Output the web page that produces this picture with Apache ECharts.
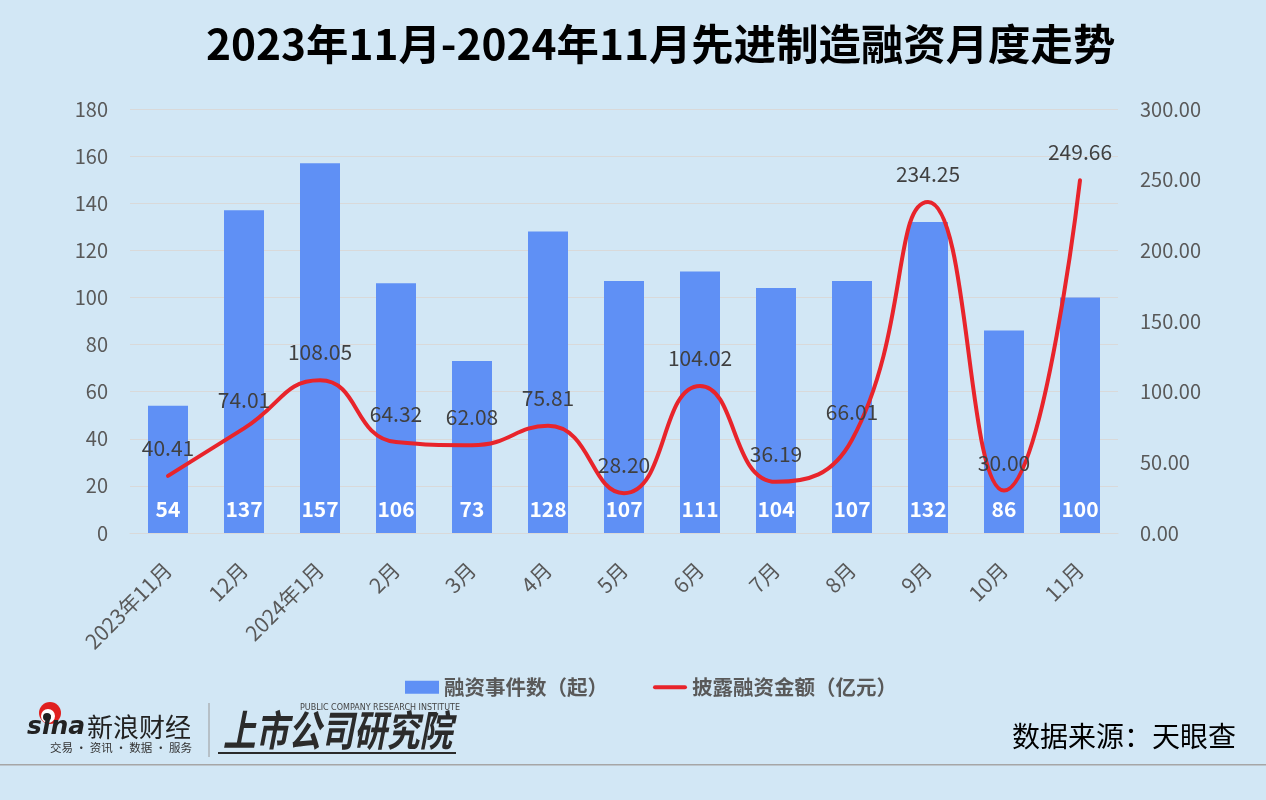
<!DOCTYPE html>
<html><head><meta charset="utf-8">
<script src="https://cdn.jsdelivr.net/npm/echarts@6/dist/echarts.min.js"></script>
<style>html,body{margin:0;padding:0;background:#d2e7f5;}#c{width:1266px;height:800px;}</style>
</head><body><div id="c"></div>
<script>
const categories = ['2023年11月','12月','2024年1月','2月','3月','4月','5月','6月','7月','8月','9月','10月','11月'];
const eventCounts = [54,137,157,106,73,128,107,111,104,107,132,86,100];
const amounts = [40.41,74.01,108.05,64.32,62.08,75.81,28.20,104.02,36.19,66.01,234.25,30.00,249.66];
const leftTicks = {min:0,max:180,interval:20};
const rightTicks = {min:0,max:300,interval:50};

const FONT = '"Noto Sans CJK SC","Noto Sans",sans-serif';
const chart = echarts.init(document.getElementById('c'));
chart.setOption({
  backgroundColor:'#d2e7f5',
  animation:false,
  textStyle:{fontFamily:FONT},
  title:{text:'2023年11月-2024年11月先进制造融资月度走势',left:201,top:18,
    textStyle:{fontSize:42.4,fontWeight:'bold',color:'#000',fontFamily:FONT}},
  grid:{left:130,right:148,top:109,bottom:267},
  legend:{top:672,left:400,itemGap:45,itemWidth:34,itemHeight:13,
    textStyle:{fontSize:20.5,fontWeight:'bold',color:'#595959'},
    data:[{name:'融资事件数（起）',icon:'rect'},{name:'披露融资金额（亿元）',icon:'path://M2,0 h30 a2,2 0 0 1 0,4 h-30 a2,2 0 0 1 0,-4z'}]},
  xAxis:{type:'category',data:categories,
    axisLine:{lineStyle:{color:'#d9d9d9'}},axisTick:{show:false},
    axisLabel:{rotate:45,fontSize:21,color:'#595959',margin:33,interval:0}},
  yAxis:[
    {type:'value',min:leftTicks.min,max:leftTicks.max,interval:leftTicks.interval,
     axisLabel:{fontSize:20,color:'#595959',margin:22},
     splitLine:{lineStyle:{color:'#d9d9d9'}},axisLine:{show:false},axisTick:{show:false}},
    {type:'value',min:rightTicks.min,max:rightTicks.max,interval:rightTicks.interval,
     axisLabel:{fontSize:20,color:'#595959',margin:22,formatter:v=>v.toFixed(2)},
     splitLine:{show:false},axisLine:{show:false},axisTick:{show:false}}
  ],
  series:[
    {name:'融资事件数（起）',type:'bar',data:eventCounts,barWidth:40,
     itemStyle:{color:'#5f90f5'},
     label:{show:true,position:'insideBottom',distance:13,color:'#fff',fontSize:21,fontWeight:'bold'}},
    {name:'披露融资金额（亿元）',type:'line',yAxisIndex:1,data:amounts,smooth:0.5,
     symbol:'circle',symbolSize:1,showSymbol:true,
     lineStyle:{color:'#e8242b',width:4,cap:'round'},itemStyle:{color:'#e8242b'},
     label:{show:true,position:'top',distance:17,color:'#404040',fontSize:21,
       formatter:p=>p.value.toFixed(2)}}
  ],
  graphic:[
    {type:'rect',shape:{x:0,y:764,width:1266,height:1.5},style:{fill:'#a6a6a6'}},
    {type:'text',right:30,top:722,style:{text:'数据来源：天眼查',fontSize:28,fill:'#000',fontFamily:FONT}},
    // sina logo
    {type:'circle',shape:{cx:50,cy:713,r:11},style:{fill:'#e0201f'}},
    {type:'circle',shape:{cx:48,cy:716,r:7},style:{fill:'#fff'}},
    {type:'circle',shape:{cx:47,cy:717,r:4},style:{fill:'#222'}},
    {type:'text',left:27,top:715,style:{text:'sina',fontSize:25,fontWeight:'bold',fontStyle:'italic',fill:'#222',fontFamily:'"DejaVu Sans",sans-serif'}},
    {type:'text',left:87,top:714,style:{text:'新浪财经',fontSize:26,fill:'#222',fontFamily:FONT}},
    {type:'text',left:50,top:742,style:{text:'交易 · 资讯 · 数据 · 服务',fontSize:11.5,fill:'#333',fontFamily:FONT}},
    {type:'rect',shape:{x:208.5,y:703,width:1,height:54},style:{fill:'#999'}},
    {type:'text',left:300,top:704,style:{text:'PUBLIC COMPANY RESEARCH INSTITUTE',fontSize:8,fill:'#444',fontFamily:'"DejaVu Sans",sans-serif'}},
    {type:'text',x:223,y:709,scaleX:0.78,style:{text:'上市公司研究院',fontSize:42,fontWeight:'bold',fontStyle:'italic',fill:'#2b2b2b',fontFamily:FONT}},
    {type:'rect',shape:{x:218,y:752,width:238,height:2},style:{fill:'#2b2b2b'}}
  ]
});
</script></body></html>
